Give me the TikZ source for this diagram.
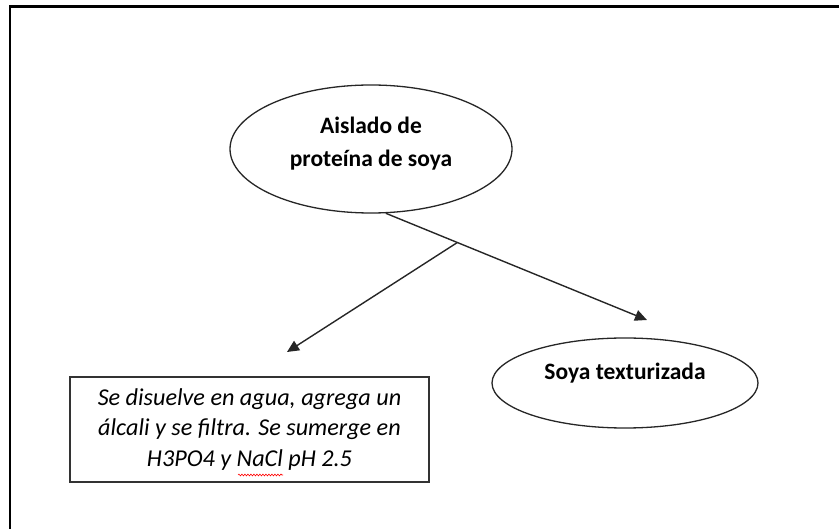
\documentclass[tikz,border=0pt]{standalone}
\usepackage{fontspec}
\setmainfont{Carlito}
\usetikzlibrary{shapes.geometric,arrows.meta,decorations.pathmorphing,calc}
\begin{document}
\begin{tikzpicture}[x=1pt,y=-1pt,
  bubble/.style={draw=black!85,line width=1.3pt,ellipse,inner sep=0pt},
  bubbletext/.style={font=\fontsize{23.5}{33}\selectfont\bfseries,align=center,inner sep=0pt},
  notebox/.style={draw=black!80,line width=1.6pt,inner sep=0pt,align=center,
    font=\fontsize{24.2}{30.5}\selectfont\itshape},
  conn/.style={draw=black!85,line width=1.4pt,-{Triangle[length=12pt,width=11pt]}}
]
\useasboundingbox (0,0) rectangle (839,529);
\draw[line width=2.4pt,black] (10,529) -- (10,6.5) -- (839,6.5);
% top ellipse
\node[bubble,minimum width=282pt,minimum height=128pt] (top) at (371,149) {};
\node[bubbletext] (toptext) at (371,144) {Aislado de\\proteína de soya};
% right ellipse
\node[bubble,minimum width=266pt,minimum height=90pt] (soy) at (625,383) {};
\node[bubbletext] (soytext) at (625,373) {Soya texturizada};
% box
\node[notebox,minimum width=359pt,minimum height=105pt] (box) at (249.5,429.5)
  {Se disuelve en agua, agrega un\\álcali y se filtra. Se sumerge en\\H3PO4 y NaCl pH 2.5};
% connectors
\coordinate (start) at (385,213);
\coordinate (tipR) at (647,320);
\coordinate (join) at ($(start)!0.276!(tipR)$);
\coordinate (tipL) at (287,352);
\draw[conn] (top.-77) -- (tipR);
\draw[conn] (join) -- (tipL);
% spell-check squiggle
\draw[red,line width=0.6pt,decorate,decoration={snake,amplitude=0.9pt,segment length=3pt}] (238,475) -- (283,475);
\end{tikzpicture}
\end{document}
